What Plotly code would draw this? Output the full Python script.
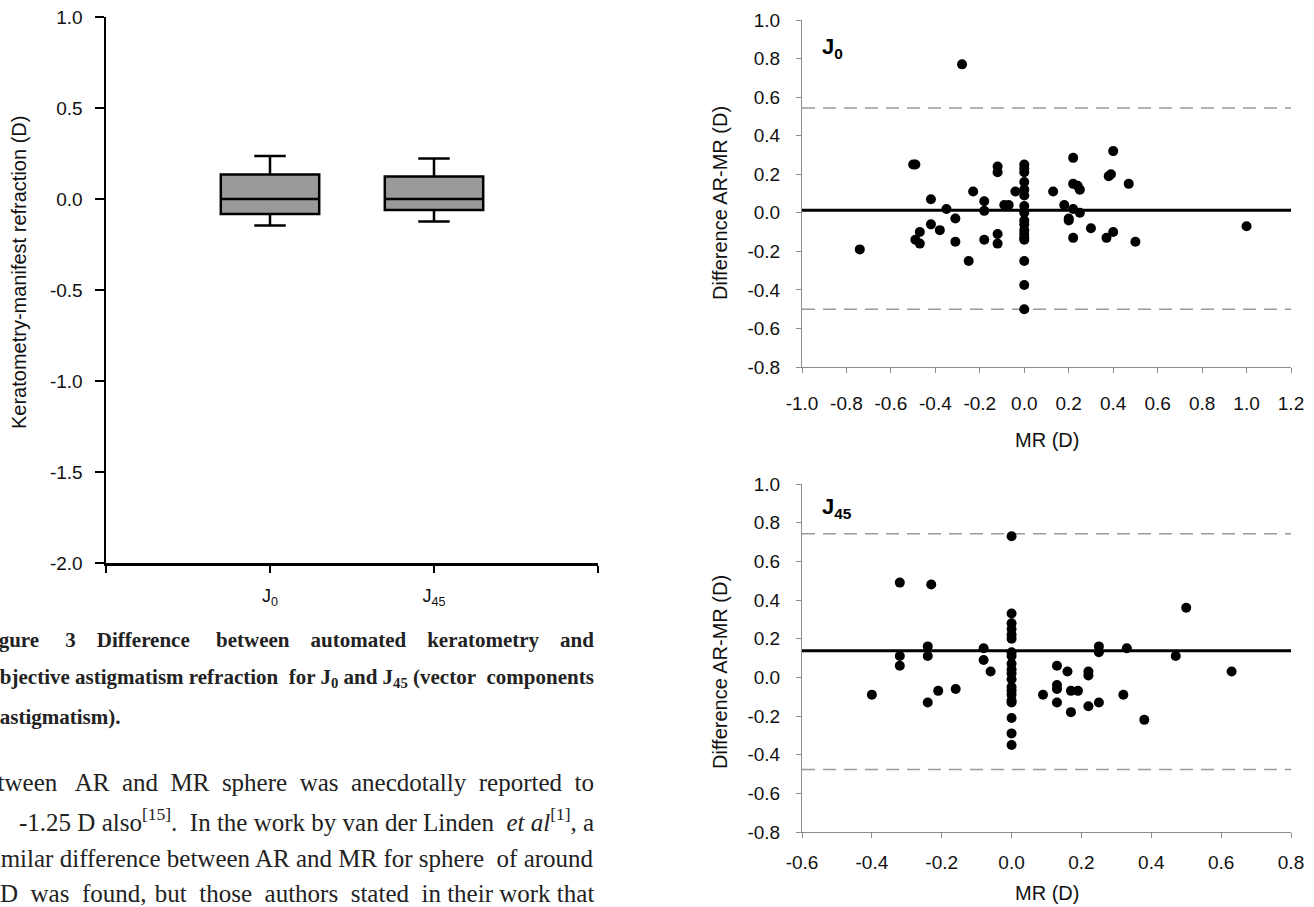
import plotly.graph_objects as go

W, H = 1314, 907

# ---------------- data ----------------
# Figure 3 box plot: keratometry - manifest refraction
box_labels = ["J<sub>0</sub>", "J<sub>45</sub>"]
box_pos = [1, 2]
box_edges = [0, 3]
box_q1 = [-0.083, -0.060]
box_median = [0.0, 0.0]
box_q3 = [0.134, 0.123]
box_low = [-0.145, -0.123]
box_high = [0.236, 0.223]
box_yticks = [-2.0, -1.5, -1.0, -0.5, 0.0, 0.5, 1.0]

# J0 Bland-Altman (AR - MR vs MR)
j0_mr = [-0.28, -0.50, -0.49, -0.12, -0.12,
         0.0, 0.0, 0.0, 0.0, 0.0, 0.0, 0.0, 0.0, 0.0, 0.0, 0.0, 0.0, 0.0, 0.0, 0.0, 0.0, 0.0,
         0.22, 0.40, 0.38, 0.39, 0.47, 0.22, 0.24, 0.25, 0.13, -0.04, -0.23,
         -0.18, -0.18, -0.42, -0.35, -0.31, -0.09, -0.07, 0.18, 0.22, 0.20, 0.20, 0.25,
         -0.42, -0.38, -0.47, -0.49, -0.47, -0.31, -0.25, -0.18, -0.12, -0.12, -0.74,
         0.30, 0.22, 0.37, 0.40, 0.50, 1.00]
j0_diff = [0.77, 0.25, 0.25, 0.24, 0.21,
           0.25, 0.23, 0.21, 0.16, 0.12, 0.09, 0.035, 0.0, -0.04, -0.06, -0.09, -0.11, -0.13, -0.14, -0.25, -0.375, -0.50,
           0.285, 0.32, 0.19, 0.20, 0.15, 0.15, 0.14, 0.12, 0.11, 0.11, 0.11,
           0.06, 0.01, 0.07, 0.02, -0.03, 0.04, 0.04, 0.04, 0.02, -0.03, -0.04, 0.0,
           -0.06, -0.09, -0.10, -0.14, -0.16, -0.15, -0.25, -0.14, -0.11, -0.16, -0.19,
           -0.08, -0.13, -0.13, -0.10, -0.15, -0.07]
j0_mean = 0.013
j0_loa = [0.544, -0.50]
j0_xticks = [-1.0, -0.8, -0.6, -0.4, -0.2, 0.0, 0.2, 0.4, 0.6, 0.8, 1.0, 1.2]

# J45 Bland-Altman
j45_mr = [0.0, 0.0, 0.0, 0.0, 0.0, 0.0, 0.0, 0.0, 0.0, 0.0, 0.0, 0.0, 0.0, 0.0, 0.0, 0.0, 0.0, 0.0, 0.0, 0.0,
          -0.32, -0.23, 0.50, -0.32, -0.32, -0.24, -0.24, -0.08, -0.08, -0.06,
          0.25, 0.25, 0.33, 0.47, 0.63, 0.13, 0.16, 0.22, 0.22,
          -0.21, -0.16, -0.40, -0.24, 0.09, 0.13, 0.13, 0.13, 0.17, 0.19, 0.17, 0.22, 0.25, 0.32, 0.38]
j45_diff = [0.73, 0.33, 0.28, 0.25, 0.22, 0.20, 0.13, 0.11, 0.07, 0.04, 0.02, -0.01, -0.05, -0.07, -0.09, -0.12, -0.13, -0.21, -0.29, -0.35,
            0.49, 0.48, 0.36, 0.11, 0.06, 0.16, 0.11, 0.15, 0.09, 0.03,
            0.16, 0.13, 0.15, 0.11, 0.03, 0.06, 0.03, 0.03, 0.01,
            -0.07, -0.06, -0.09, -0.13, -0.09, -0.04, -0.06, -0.13, -0.07, -0.07, -0.18, -0.15, -0.13, -0.09, -0.22]
j45_mean = 0.137
j45_loa = [0.743, -0.477]
j45_xticks = [-0.6, -0.4, -0.2, 0.0, 0.2, 0.4, 0.6, 0.8]

ba_yticks = [-0.8, -0.6, -0.4, -0.2, 0.0, 0.2, 0.4, 0.6, 0.8, 1.0]

N = "\u00a0"
T = "\u200a"
S4 = N * 3 + " "
S5 = N * 4 + " "
caption_lines = [
    "Figure" + S5 + "3" + S4 + "Difference" + S5 + "between" + S4 + "automated" + S4
    + "keratometry" + S4 + "and",
    "subjective astigmatism refraction" + N + " for J<sub>0</sub> and J<sub>45</sub> (vector"
    + N + " components",
    "of astigmatism).",
]
body_lines = [
    "between" + N * 2 + " AR" + N + " and" + N + " MR" + N + " sphere" + N + " was" + N
    + " anecdotally" + N + " reported" + N + " to",
    "-1.25 D also<sup>[15]</sup>." + N + " In the work by van der Linden" + N
    + " <i>et al</i><sup>[1]</sup>, a",
    "similar difference between AR and MR for sphere" + N + " of around",
    "D" + N + " was" + N + " found," + T + " but" + N + " those" + N + " authors" + N + " stated"
    + N + " in their work that",
]


def px(x):
    return x / W


def py(y):
    return 1 - y / H


def fmt(v):
    return f"{v:.1f}"


fig = go.Figure()

fig.add_trace(go.Box(
    x=box_pos, q1=box_q1, median=box_median, q3=box_q3,
    lowerfence=box_low, upperfence=box_high,
    xaxis="x", yaxis="y", fillcolor="#9a9a9a",
    line=dict(color="black", width=2.5), width=0.6, whiskerwidth=0.32,
    boxpoints=False, hoverinfo="skip",
))

fig.add_trace(go.Scatter(
    x=j0_mr, y=j0_diff, mode="markers", xaxis="x2", yaxis="y2",
    marker=dict(color="black", size=10),
))
fig.add_trace(go.Scatter(
    x=j45_mr, y=j45_diff, mode="markers", xaxis="x3", yaxis="y3",
    marker=dict(color="black", size=10),
))

shapes = []
for ax, mean, loa in [("2", j0_mean, j0_loa), ("3", j45_mean, j45_loa)]:
    shapes.append(dict(type="line", xref=f"x{ax} domain", yref=f"y{ax}", x0=0, x1=1,
                       y0=mean, y1=mean, layer="below",
                       line=dict(color="black", width=3)))
    for v in loa:
        shapes.append(dict(type="line", xref=f"x{ax} domain", yref=f"y{ax}", x0=0, x1=1,
                           y0=v, y1=v, layer="below",
                           line=dict(color="#9a9a9a", width=1.5, dash="13px,8px")))

tickfont = dict(family="Liberation Sans, Arial", size=19, color="#111")
grey = "#8c8c8c"

common = dict(showgrid=False, zeroline=False, automargin=False, fixedrange=True,
              ticks="outside")

fig.update_layout(
    width=W, height=H, autosize=False,
    margin=dict(l=0, r=0, t=0, b=0, autoexpand=False),
    paper_bgcolor="white", plot_bgcolor="white",
    showlegend=False, hovermode=False,
    shapes=shapes,
    xaxis=dict(common, domain=[px(106), px(598)], range=[0, 3], tickvals=box_pos,
               ticktext=box_labels,
               showline=True, linecolor="black", linewidth=2.5,
               ticklen=7, tickwidth=2.5, tickcolor="black",
               minor=dict(tickvals=box_edges, ticks="outside", ticklen=7, tickwidth=2.5,
                          tickcolor="black"),
               tickfont=dict(tickfont, size=18),
               ticklabelstandoff=8, anchor="y"),
    yaxis=dict(common, domain=[py(563), py(17)], range=[-2, 1], tickvals=box_yticks,
               ticktext=[fmt(v) for v in box_yticks],
               showline=True, linecolor="black", linewidth=2.5,
               ticklen=9, tickwidth=2.5, tickcolor="black",
               tickfont=tickfont, ticklabelstandoff=8, anchor="x"),
    xaxis2=dict(common, domain=[px(802), px(1291)], range=[-1.0, 1.2], tickvals=j0_xticks,
                ticktext=[fmt(v) for v in j0_xticks],
                showline=True, linecolor=grey, linewidth=1,
                ticklen=5, tickwidth=1, tickcolor=grey,
                tickfont=tickfont, ticklabelstandoff=14, anchor="y2"),
    yaxis2=dict(common, domain=[py(367), py(20)], range=[-0.8, 1.0], tickvals=ba_yticks,
                ticktext=[fmt(v) for v in ba_yticks],
                showline=True, linecolor=grey, linewidth=1,
                ticklen=5, tickwidth=1, tickcolor=grey,
                tickfont=tickfont, ticklabelstandoff=12, anchor="x2"),
    xaxis3=dict(common, domain=[px(802), px(1291)], range=[-0.6, 0.8], tickvals=j45_xticks,
                ticktext=[fmt(v) for v in j45_xticks],
                showline=True, linecolor=grey, linewidth=1,
                ticklen=5, tickwidth=1, tickcolor=grey,
                tickfont=tickfont, ticklabelstandoff=8, anchor="y3"),
    yaxis3=dict(common, domain=[py(832), py(484)], range=[-0.8, 1.0], tickvals=ba_yticks,
                ticktext=[fmt(v) for v in ba_yticks],
                showline=True, linecolor=grey, linewidth=1,
                ticklen=5, tickwidth=1, tickcolor=grey,
                tickfont=tickfont, ticklabelstandoff=12, anchor="x3"),
)

ann = []
sans = "Liberation Sans, Arial"
serif = "Liberation Serif, Times New Roman"
# axis titles
ann.append(dict(text="Keratometry-manifest refraction (D)", x=px(19), y=py(273),
                textangle=-90, font=dict(family=sans, size=20, color="#111")))
ann.append(dict(text="Difference AR-MR (D)", x=px(720), y=py(203),
                textangle=-90, font=dict(family=sans, size=20, color="#111")))
ann.append(dict(text="Difference AR-MR (D)", x=px(720), y=py(672),
                textangle=-90, font=dict(family=sans, size=20, color="#111")))
ann.append(dict(text="MR (D)", x=px(1047), y=py(440),
                font=dict(family=sans, size=20, color="#111")))
ann.append(dict(text="MR (D)", x=px(1047), y=py(893),
                font=dict(family=sans, size=20, color="#111")))
# panel labels
ann.append(dict(text="<b>J<sub>0</sub></b>", x=px(820), y=py(48), xanchor="left",
                font=dict(family=sans, size=22, color="black")))
ann.append(dict(text="<b>J<sub>45</sub></b>", x=px(820), y=py(508), xanchor="left",
                font=dict(family=sans, size=22, color="black")))
# caption
cap_y = [640, 678, 717]
ann.append(dict(text="<b>" + caption_lines[0] + "</b>", x=px(596), y=py(cap_y[0]), xanchor="right",
                font=dict(family=serif, size=21, color="#222")))
ann.append(dict(text="<b>" + caption_lines[1] + "</b>", x=px(596), y=py(cap_y[1]), xanchor="right",
                font=dict(family=serif, size=21, color="#222")))
ann.append(dict(text="<b>" + caption_lines[2] + "</b>", x=px(122), y=py(cap_y[2]), xanchor="right",
                font=dict(family=serif, size=21, color="#222")))
# body text
body_y = [782, 820, 858, 893]
for t, yy in zip(body_lines, body_y):
    ann.append(dict(text=t, x=px(596), y=py(yy), xanchor="right",
                    font=dict(family=serif, size=25, color="#222")))

for a in ann:
    a.setdefault("xref", "paper")
    a.setdefault("yref", "paper")
    a.setdefault("showarrow", False)
    a.setdefault("yanchor", "middle")
    a.setdefault("xanchor", "center")
fig.update_layout(annotations=ann)

fig.write_html("out.html", config={"displayModeBar": False, "staticPlot": True},
               post_script="document.body.style.margin='0px';document.body.style.overflow='hidden';")
